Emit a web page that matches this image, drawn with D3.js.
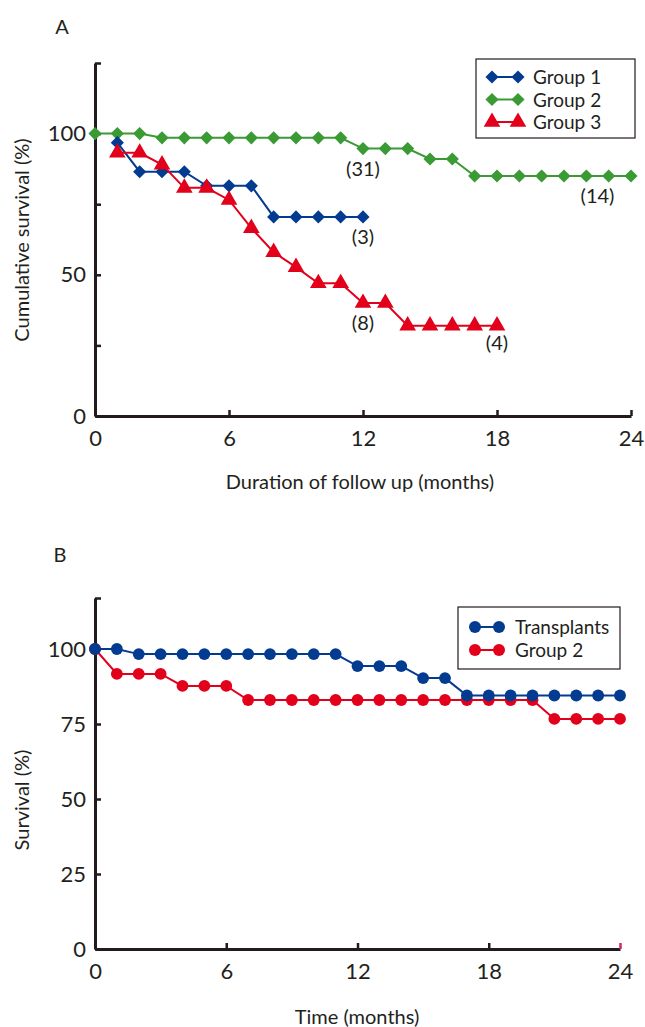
<!DOCTYPE html>
<html><head><meta charset="utf-8">
<script src="https://cdn.jsdelivr.net/npm/d3@7"></script>
<style>
body{margin:0;background:#fff;}
svg text{font-family:"Lato","Noto Sans",sans-serif;fill:#231f20;}
</style></head>
<body><svg id="c" width="645" height="1027"></svg>
<script>
// ---- Panel A data ----
const monthsA1 = [1,2,3,4,5,6,7,8,9,10,11,12];
const group1 = [96.8,86.5,86.5,86.5,81.5,81.5,81.5,70.5,70.5,70.5,70.5,70.5];
const monthsA2 = [0,1,2,3,4,5,6,7,8,9,10,11,12,13,14,15,16,17,18,19,20,21,22,23,24];
const group2 = [100,100,100,98.5,98.5,98.5,98.5,98.5,98.5,98.5,98.5,98.5,94.7,94.7,94.7,91,91,85,85,85,85,85,85,85,85];
const monthsA3 = [1,2,3,4,5,6,7,8,9,10,11,12,13,14,15,16,17,18];
const group3 = [93.2,93.2,89,80.8,80.8,76.5,66.5,58,52.7,47,47,40,40,32,32,32,32,32];
const labelsA = [{t:"(31)",x:12,y:85},{t:"(14)",x:22.5,y:75.5},{t:"(3)",x:12,y:61},{t:"(8)",x:12,y:30.5},{t:"(4)",x:18,y:23.5}];
const xTicksA = [0,6,12,18,24];
const yTicksA = [0,25,50,75,100,125];
const yLabelsA = [0,50,100];

// ---- Panel B data ----
const monthsB = [0,1,2,3,4,5,6,7,8,9,10,11,12,13,14,15,16,17,18,19,20,21,22,23,24];
const transplants = [100,100,98.3,98.3,98.3,98.3,98.3,98.3,98.3,98.3,98.3,98.3,94.3,94.3,94.3,90.3,90.3,84.5,84.5,84.5,84.5,84.5,84.5,84.5,84.5];
const group2B = [100,91.7,91.7,91.7,87.7,87.7,87.7,83,83,83,83,83,83,83,83,83,83,83,83,83,83,76.7,76.7,76.7,76.7];
const xTicksB = [0,6,12,18,24];
const yTicksB = [0,25,50,75,100,117];
const yLabelsB = [0,25,50,75,100];

const BLUE="#033b91", GREEN="#3a9a33", RED="#e2001a", AX="#231a1e";
const TICKFS=22, TITLEFS=20, LEGFS=19, NOTEFS=20;
const svg = d3.select("#c");

function drawAxes(x, y, xt, yt, ylab, opts){
  const g = svg.append("g");
  const ya = d3.axisLeft(y).tickValues(yt).tickSize(-6).tickSizeOuter(0).tickPadding(9)
     .tickFormat(d=>ylab.includes(d)?d:"");
  const yg = g.append("g").attr("transform",`translate(${x.range()[0]},0)`).call(ya);
  yg.select(".domain").attr("stroke",AX).attr("stroke-width",3);
  yg.selectAll(".tick line").attr("stroke",AX).attr("stroke-width",2.5);
  yg.selectAll(".tick text").attr("font-size",TICKFS).attr("fill","#231f20").style("font-family","Lato");
  const xa = d3.axisBottom(x).tickValues(xt).tickSize(-6).tickSizeOuter(0).tickPadding(14);
  const xg = g.append("g").attr("transform",`translate(0,${y.range()[0]})`).call(xa);
  xg.select(".domain").attr("stroke",AX).attr("stroke-width",3);
  xg.selectAll(".tick line").attr("stroke",(d)=> (opts.pink && d===24)?"#d0246e":AX).attr("stroke-width",2.5)
    .attr("opacity",d=>d===0?0:1);
  xg.selectAll(".tick text").attr("font-size",TICKFS).attr("fill","#231f20").style("font-family","Lato");
}

function series(x, y, xs, ys, color, sym, size){
  const pts = xs.map((m,i)=>[m,ys[i]]);
  svg.append("path").datum(pts)
    .attr("fill","none").attr("stroke",color).attr("stroke-width",2)
    .attr("d", d3.line().x(d=>x(d[0])).y(d=>y(d[1])));
  svg.append("g").selectAll("path").data(pts).join("path")
    .attr("transform",d=>`translate(${x(d[0])},${y(d[1])})`)
    .attr("d", d3.symbol().type(sym).size(size))
    .attr("fill",color);
}

// ---------- Panel A ----------
const xA = d3.scaleLinear().domain([0,24]).range([95,631]);
const yA = d3.scaleLinear().domain([0,125]).range([416,63]);
drawAxes(xA,yA,xTicksA,yTicksA,yLabelsA,{});
series(xA,yA,monthsA2,group2,GREEN,d3.symbolDiamond2,110);
series(xA,yA,monthsA1,group1,BLUE,d3.symbolDiamond2,110);
series(xA,yA,monthsA3,group3,RED,d3.symbolTriangle,120);
svg.append("g").selectAll("text").data(labelsA).join("text")
  .attr("x",d=>xA(d.x)).attr("y",d=>yA(d.y)).attr("text-anchor","middle")
  .attr("font-size",NOTEFS).text(d=>d.t);
svg.append("text").attr("x",62).attr("y",34).attr("text-anchor","middle").attr("font-size",20).text("A");
svg.append("text").attr("transform","translate(29,240) rotate(-90)").attr("text-anchor","middle").attr("font-size",TITLEFS).text("Cumulative survival (%)");
svg.append("text").attr("x",360).attr("y",489).attr("text-anchor","middle").attr("font-size",TITLEFS).text("Duration of follow up (months)");

// Legend A
const legA = [{n:"Group 1",c:BLUE,s:d3.symbolDiamond2,sz:110},{n:"Group 2",c:GREEN,s:d3.symbolDiamond2,sz:110},{n:"Group 3",c:RED,s:d3.symbolTriangle,sz:120}];
svg.append("rect").attr("x",476).attr("y",59).attr("width",159).attr("height",79).attr("fill","#fff").attr("stroke",AX).attr("stroke-width",1.2);
const lgA = svg.append("g").selectAll("g").data(legA).join("g").attr("transform",(d,i)=>`translate(0,${77+i*22.5})`);
lgA.append("line").attr("x1",492).attr("x2",518).attr("stroke",d=>d.c).attr("stroke-width",2);
lgA.append("path").attr("transform","translate(492,0)").attr("d",d=>d3.symbol().type(d.s).size(d.sz)()).attr("fill",d=>d.c);
lgA.append("path").attr("transform","translate(518,0)").attr("d",d=>d3.symbol().type(d.s).size(d.sz)()).attr("fill",d=>d.c);
lgA.append("text").attr("x",533).attr("y",7).attr("font-size",LEGFS).text(d=>d.n);

// ---------- Panel B ----------
const xB = d3.scaleLinear().domain([0,24]).range([95,620]);
const yB = d3.scaleLinear().domain([0,117]).range([949,598]);
drawAxes(xB,yB,xTicksB,yTicksB,yLabelsB,{pink:true});
series(xB,yB,monthsB,group2B,RED,d3.symbolCircle,110);
series(xB,yB,monthsB,transplants,BLUE,d3.symbolCircle,110);
svg.append("text").attr("x",60).attr("y",562).attr("text-anchor","middle").attr("font-size",20).text("B");
svg.append("text").attr("transform","translate(29,800) rotate(-90)").attr("text-anchor","middle").attr("font-size",TITLEFS).text("Survival (%)");
svg.append("text").attr("x",357).attr("y",1024).attr("text-anchor","middle").attr("font-size",TITLEFS).text("Time (months)");

// Legend B
const legB = [{n:"Transplants",c:BLUE},{n:"Group 2",c:RED}];
svg.append("rect").attr("x",458).attr("y",607).attr("width",162).attr("height",62).attr("fill","#fff").attr("stroke",AX).attr("stroke-width",1.2);
const lgB = svg.append("g").selectAll("g").data(legB).join("g").attr("transform",(d,i)=>`translate(0,${627+i*23})`);
lgB.append("line").attr("x1",475).attr("x2",499).attr("stroke",d=>d.c).attr("stroke-width",2);
lgB.append("circle").attr("cx",475).attr("r",6).attr("fill",d=>d.c);
lgB.append("circle").attr("cx",499).attr("r",6).attr("fill",d=>d.c);
lgB.append("text").attr("x",515).attr("y",7).attr("font-size",LEGFS).text(d=>d.n);
</script></body></html>
